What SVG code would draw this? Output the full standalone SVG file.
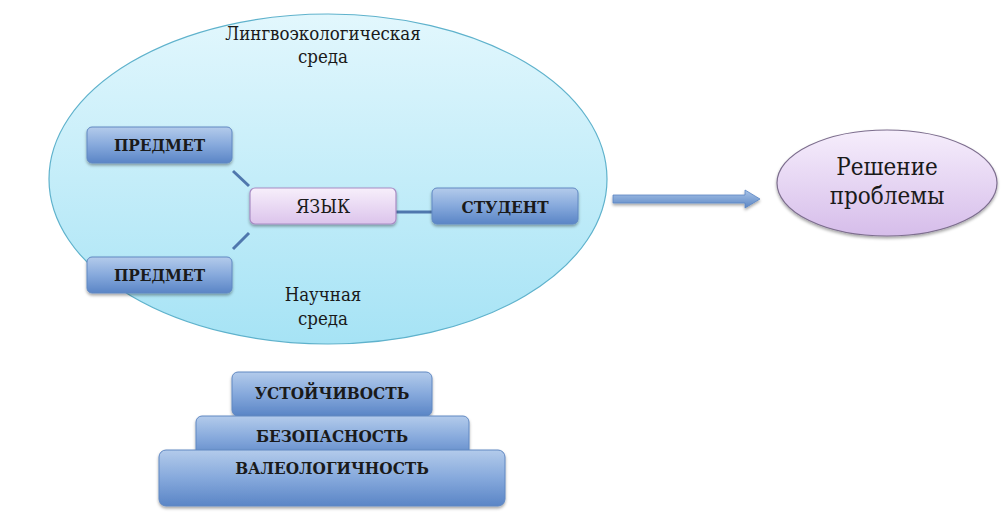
<svg xmlns="http://www.w3.org/2000/svg" width="1003" height="521" viewBox="0 0 1003 521">
<defs>
<linearGradient id="gEnv" x1="0" y1="0" x2="0" y2="1"><stop offset="0" stop-color="#e2f7fd"/><stop offset="1" stop-color="#a6e3f5"/></linearGradient>
<linearGradient id="gBlue" x1="0" y1="0" x2="0" y2="1"><stop offset="0" stop-color="#b3cbeb"/><stop offset="0.5" stop-color="#86a9dc"/><stop offset="1" stop-color="#5a85c6"/></linearGradient>
<linearGradient id="gLav" x1="0" y1="0" x2="0" y2="1"><stop offset="0" stop-color="#f7effb"/><stop offset="1" stop-color="#dcc4ec"/></linearGradient>
<linearGradient id="gSol" x1="0" y1="0" x2="0" y2="1"><stop offset="0" stop-color="#f6eefc"/><stop offset="1" stop-color="#d6bdea"/></linearGradient>
<linearGradient id="gArrow" x1="0" y1="0" x2="0" y2="1"><stop offset="0" stop-color="#a9c4e8"/><stop offset="1" stop-color="#5b86c4"/></linearGradient>
<filter id="sh" x="-10%" y="-20%" width="120%" height="150%"><feDropShadow dx="0" dy="2" stdDeviation="1.5" flood-color="#000" flood-opacity="0.35"/></filter>
<style>
.box{fill:url(#gBlue);stroke:#6088c2;stroke-width:1;filter:url(#sh)}
.lav{fill:url(#gLav);stroke:#a88cc4;stroke-width:1.2;filter:url(#sh)}
.t{font-family:"DejaVu Serif Condensed","DejaVu Serif",serif;font-stretch:condensed;font-weight:bold;font-size:17px;fill:#1a1a1a;text-anchor:middle}
.tn{font-family:"DejaVu Serif Condensed","DejaVu Serif",serif;font-stretch:condensed;font-size:19px;fill:#1a1a1a;text-anchor:middle}
.n{font-family:"DejaVu Serif Condensed","DejaVu Serif",serif;font-stretch:condensed;font-size:18.5px;fill:#1a1a1a;text-anchor:middle}
.s{font-family:"DejaVu Serif Condensed","DejaVu Serif",serif;font-stretch:condensed;font-size:24px;fill:#1a1a1a;text-anchor:middle}
.c{stroke:#4f77ad;stroke-width:3;fill:none}
</style>
</defs>
<rect width="1003" height="521" fill="#fff"/>
<g id="env">
<ellipse cx="328" cy="179" rx="279" ry="165" fill="url(#gEnv)" stroke="#5fb2cc" stroke-width="1.2"/>
<text class="n" x="323" y="40">Лингвоэкологическая</text>
<text class="n" x="323" y="63">среда</text>
<text class="n" x="323" y="301">Научная</text>
<text class="n" x="323" y="325">среда</text>
</g>
<g id="connectors">
<line class="c" x1="233" y1="171" x2="249" y2="186"/>
<line class="c" x1="233" y1="249" x2="249" y2="233"/>
<line class="c" x1="396" y1="212" x2="432" y2="212"/>
<path d="M613,195 L745,195 L745,190 L760,199 L745,208 L745,203 L613,203 Z" fill="url(#gArrow)" stroke="#5b86c4" stroke-width="0.8" filter="url(#sh)"/>
</g>
<g id="subject1"><rect class="box" x="87" y="127" width="145" height="36" rx="5"/><text class="t" x="159.5" y="151">ПРЕДМЕТ</text></g>
<g id="subject2"><rect class="box" x="87" y="257" width="145" height="36" rx="5"/><text class="t" x="159.5" y="281">ПРЕДМЕТ</text></g>
<g id="language"><rect class="lav" x="250" y="188" width="146" height="36" rx="5"/><text class="tn" x="323" y="213">ЯЗЫК</text></g>
<g id="student"><rect class="box" x="432" y="188" width="146" height="36" rx="5"/><text class="t" x="505" y="213">СТУДЕНТ</text></g>
<g id="solution">
<ellipse cx="887" cy="183" rx="110" ry="53" fill="url(#gSol)" stroke="#7d6e8e" stroke-width="1.2" filter="url(#sh)"/>
<text class="s" x="887" y="175">Решение</text>
<text class="s" x="887" y="204">проблемы</text>
</g>
<g id="stability"><rect class="box" x="232" y="372" width="200" height="44" rx="6"/><text class="t" x="332" y="399">УСТОЙЧИВОСТЬ</text></g>
<g id="safety"><rect class="box" x="196" y="416" width="273" height="44" rx="6"/><text class="t" x="332" y="442">БЕЗОПАСНОСТЬ</text></g>
<g id="valeology"><rect class="box" x="159" y="450" width="346" height="56" rx="7"/><text class="t" x="332" y="474">ВАЛЕОЛОГИЧНОСТЬ</text></g>
</svg>
